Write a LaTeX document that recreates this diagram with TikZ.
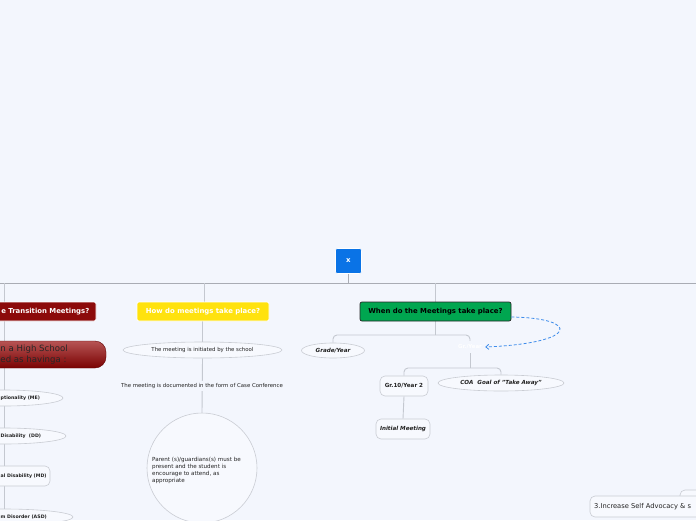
\documentclass[tikz,border=0pt]{standalone}
\usepackage{fontspec}
\setmainfont{DejaVu Sans}
\usetikzlibrary{shapes.geometric,arrows.meta,backgrounds}
\definecolor{bg}{HTML}{F3F6FD}
\definecolor{conn}{HTML}{C4C8D0}
\definecolor{mainline}{HTML}{A9ACB4}
\definecolor{nodeborder}{HTML}{C9CCD3}
\definecolor{nodefill}{HTML}{F7F9FE}
\definecolor{rootblue}{HTML}{0A73E6}
\definecolor{darkred}{HTML}{8C0A0A}
\definecolor{redtop}{HTML}{B65454}
\definecolor{redbot}{HTML}{7A0202}
\definecolor{yel}{HTML}{FFE20E}
\definecolor{grn}{HTML}{00A650}
\definecolor{dashblue}{HTML}{3F8DEB}
\definecolor{txt}{HTML}{222222}
\tikzset{
  conline/.style={draw=conn, line width=0.9pt, rounded corners=4pt},
  oval/.style={ellipse, draw=nodeborder, fill=nodefill, inner sep=0pt, line width=0.6pt},
  soft/.style={rounded corners=5pt, draw=nodeborder, fill=nodefill, inner sep=0pt, line width=0.6pt},
  smalltxt/.style={font=\fontsize{5.4}{6.5}\selectfont, text=txt, inner sep=0pt},
  boldsmall/.style={font=\bfseries\fontsize{4.7}{6}\selectfont, text=txt, inner sep=0pt},
  bisub/.style={font=\bfseries\itshape\fontsize{5.6}{6.5}\selectfont, text=txt},
  topic/.style={rounded corners=2pt, inner sep=0pt, line width=0.7pt, font=\bfseries\fontsize{6.9}{8}\selectfont},
}
\begin{document}
\begin{tikzpicture}[x=1pt,y=-1pt]
\begin{pgfonlayer}{background}
\fill[bg] (0,0) rectangle (696,520);
\end{pgfonlayer}
\useasboundingbox (0,0) rectangle (696,520);

% ---------- root ----------
\node[fill=rootblue, draw=white, line width=0.6pt, rounded corners=2pt, minimum width=26pt, minimum height=25pt, text=white, font=\bfseries\fontsize{7}{8}\selectfont] (root) at (348.5,261) {x};

% ---------- branch 1 (left) ----------
\node[topic, fill=darkred, draw=white, minimum width=130pt, minimum height=19pt] (t1) at (31,311.5) {};
\node[anchor=east, text=white, inner sep=0pt, font=\bfseries\fontsize{6.9}{8}\selectfont] (t1l) at (89.5,311.5) {e Transition Meetings?};

\node[rounded corners=11pt, top color=redtop, bottom color=redbot, draw=redbot!80!black, line width=0.4pt, minimum width=170pt, minimum height=27pt, inner sep=0pt] (hs) at (21,354.5) {};
\node[anchor=west, align=left, inner sep=0pt, text=black!85, font=\fontsize{8.6}{10.6}\selectfont] (hsl) at (0.3,354.8) {n a High School\\ed as havinga :};

\node[oval, minimum width=118pt, minimum height=16pt] (me) at (4,398) {};
\node[boldsmall, anchor=west] (mel) at (0.5,398) {ptionality (ME)};
\node[oval, minimum width=124pt, minimum height=16pt] (dd) at (4,436) {};
\node[boldsmall, anchor=west] (ddl) at (0.5,436) {Disability \ (DD)};
\node[soft, minimum width=100pt, minimum height=20pt] (md) at (0,476) {};
\node[boldsmall, anchor=west] (mdl) at (0.5,476) {al Disability (MD)};
\node[oval, minimum width=138pt, minimum height=16pt] (asd) at (4,517) {};
\node[boldsmall, anchor=west] (asdl) at (0.5,517) {m Disorder (ASD)};

% ---------- branch 2 (middle) ----------
\node[topic, fill=yel, draw=white, text=white, minimum width=132pt, minimum height=19pt] (t2) at (203,311.5) {How do meetings take place?};
\node[oval, minimum width=159pt, minimum height=16pt, smalltxt, inner sep=0pt] (init) at (202.5,350) {The meeting is initiated by the school};
\node[smalltxt, fill=bg, inner sep=2pt] (doc) at (202,386) {The meeting is documented in the form of Case Conference};
\node[circle, draw=nodeborder, fill=nodefill, line width=0.6pt, minimum size=110pt, inner sep=0pt] (par) at (202,468) {};
\node[smalltxt, align=left, anchor=west, font=\fontsize{5.6}{7}\selectfont] (parl) at (152,470) {Parent (s)/guardians(s) must be\\present and the student is\\encourage to attend, as\\appropriate};

% ---------- branch 3 (right) ----------
\node[topic, fill=grn, draw=black!85, text=black, minimum width=151pt, minimum height=19pt] (t3) at (435.5,311.5) {When do the Meetings take place?};
\node[oval, bisub, minimum width=63pt, minimum height=15pt] (gy) at (333,350.5) {Grade/Year};
\node[inner sep=0pt, minimum width=30pt, minimum height=12pt, text=white, font=\bfseries\fontsize{5.4}{6}\selectfont] (hid) at (470,347) {Gr./Year};
\node[soft, minimum width=48pt, minimum height=20pt, font=\bfseries\fontsize{5.6}{6.5}\selectfont, text=txt] (g10) at (404,386) {Gr.10/Year 2};
\node[oval, bisub, minimum width=126pt, minimum height=16pt] (coa) at (501,383) {COA \ Goal of "Take Away"};
\node[soft, bisub, minimum width=54pt, minimum height=20pt] (im) at (403,429) {Initial Meeting};

% ---------- bottom right ----------
\node[soft, minimum width=50pt, minimum height=20pt] (br2) at (705,500) {};
\node[soft, minimum width=140pt, minimum height=21pt] (br) at (660,506.5) {};
\node[anchor=west, inner sep=0pt, text=txt, font=\fontsize{6.7}{8}\selectfont] (brl) at (594,507) {3.Increase Self Advocacy \& s};

% ---------- connectors ----------
\coordinate (ML) at (0,283);
\coordinate (MR) at (696,283);
\coordinate (d1) at (4,283);
\coordinate (d2) at (204,283);
\coordinate (d3) at (435,283);
\coordinate (b3) at (435,335);
\coordinate (b4) at (470,368);
\begin{pgfonlayer}{background}
\draw[draw=mainline, line width=1pt] (ML) -- (MR);
\draw[draw=mainline, line width=1pt] (root.south) -- (root.south |- ML);
\draw[conline] (d1) -- (d1 |- t1.north);
\draw[conline] (d1 |- t1.south) -- (d1 |- asd.center);
\draw[conline] (d2) -- (d2 |- t2.north);
\draw[conline] (t2.south -| init.north) -- (init.north);
\draw[conline] (init.south) -- (par.north);
\draw[conline] (d3) -- (t3.north -| d3);
\draw[conline] (t3.south -| b3) -- (b3);
\draw[conline] (b3) -| (gy.north);
\draw[conline] (b3) -| (hid.north);
\draw[conline] (hid.south) -- (b4);
\draw[conline] (b4) -| (g10.north);
\draw[conline] (b4) -| (coa.north);
\draw[conline] (g10.south) -- (im.north);
\end{pgfonlayer}
\draw[dashblue, line width=0.8pt, dash pattern=on 3pt off 2pt, -{Straight Barb[length=3pt,width=5pt]}] (t3.east |- 0,317) .. controls (580,318) and (580,343) .. (hid.east);
\end{tikzpicture}
\end{document}
